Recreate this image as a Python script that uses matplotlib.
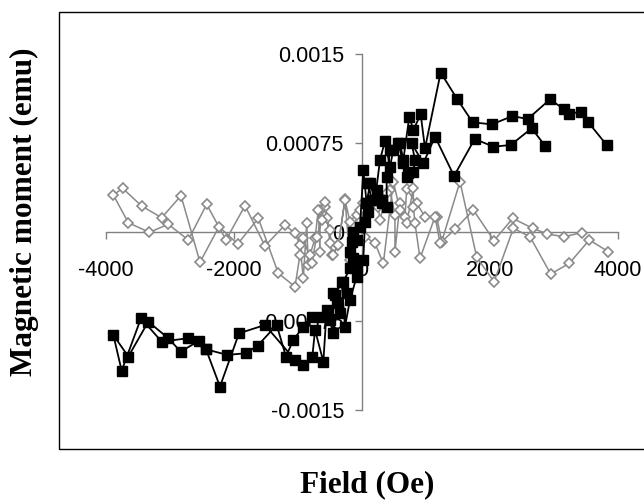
import matplotlib
matplotlib.use("Agg")
import matplotlib.pyplot as plt
from matplotlib.patches import Rectangle

# black squares: field sweep down (+H -> -H), then back up
field_black = [3823, 3536, 3417, 3240, 3156, 2938, 2589, 2349, 2031, 1729,
               1490, 1229, 984, 917, 802, 739, 645, 594, 489, 437,
               359, 281, 203, 125, 73, 20, -31, -135, -83, -188,
               -161, -135, -188, -292, -240, -396, -344, -500, -630, -786,
               -917, -1073, -1188, -1333, -1630, -1812, -2104, -2437, -2542, -2833,
               -3026, -3339, -3651, -3885,
               -3755, -3453, -3130, -2724, -2437, -2219, -1922, -1516, -1047, -927,
               -776, -734, -604, -552, -448, -448, -422, -318, -266, -188,
               -83, -83, 20, 47, 99, 73, 151, 99, 229, 307,
               307, 385, 385, 437, 567, 645, 723, 698, 802, 828,
               776, 958, 1141, 1438, 1761, 2052, 2323, 2651, 2859]
moment_black = [0.000733, 0.000924, 0.001014, 0.000994, 0.001034, 0.001118, 0.000952, 0.000977, 0.000907, 0.000924,
                0.001118, 0.001343, 0.000705, 0.000992, 0.00086, 0.000972, 0.000607, 0.000747, 0.000691, 0.00055,
                0.000767, 0.000607, 0.00027, 0.00041, 0.000242, 0.000522, 0.000045, 0.0, -0.000067, -0.000166,
                -0.000082, -0.000222, -0.000306, -0.000419, -0.000517, -0.000601, -0.000685, -0.000742, -0.000714, -0.000714,
                -0.000798, -0.00091, -0.00105, -0.000784, -0.000958, -0.001022, -0.001036, -0.000989, -0.000916, -0.001008,
                -0.000896, -0.000756, -0.00105, -0.000868,
                -0.001169, -0.000727, -0.000924, -0.000896, -0.000989, -0.001303, -0.000854, -0.000784, -0.001079, -0.001121,
                -0.00105, -0.000826, -0.001093, -0.000657, -0.000854, -0.000517, -0.000531, -0.000419, -0.000798, -0.000573,
                -0.000376, -0.000292, -0.000236, 0.000087, 0.000171, 0.000242, 0.00027, 0.00041, 0.000354, 0.000242,
                0.00027, 0.000213, 0.000466, 0.000691, 0.000747, 0.000579, 0.000494, 0.000466, 0.000508, 0.000607,
                0.000747, 0.000579, 0.000803, 0.000472, 0.000784, 0.000719, 0.000733, 0.000874, 0.000727]

# gray diamonds: same kind of sweep
field_gray = [3849, 3552, 3240, 2948, 2625, 2365, 2063, 1792, 1531, 1245,
              1167, 984, 854, 698, 672, 594, 515, 515, 437, 385,
              281, 255, 73, 20, -83, -188, -266, -370, -474, -500,
              -552, -578, -656, -656, -682, -734, -812, -839, -864, -917,
              -969, -1047, -1203, -1516, -1828, -2125, -2427, -2714, -3026, -3323,
              -3651, -3885,
              -3740, -3443, -3130, -2828, -2531, -2234, -1943, -1620, -1307, -1047,
              -969, -917, -786, -708, -630, -578, -500, -448, -370, -266,
              -188, -31, 47, 203, 333, 489, 594, 698, 802, 802,
              828, 906, 1141, 1219, 1453, 1740, 2063, 2354, 2667, 2896,
              3156, 3432]
moment_gray = [-0.000166, -0.000067, -0.000264, -0.000354, -0.00004, 0.000031, -0.000419, -0.000213, 0.000424, -0.000082,
               0.000129, 0.000129, 0.000242, 0.00036, 0.000129, 0.000242, -0.000166, 0.000143, 0.000354, 0.000326,
               0.000101, 0.000213, 0.000213, 0.000242, 0.000143, -0.000236, 0.000275, -0.00011, -0.000194, 0.000017,
               0.000115, 0.000213, 0.000185, -0.000166, 0.000185, -0.000053, -0.000194, -0.000278, 0.000073, -0.00039,
               -0.00011, -0.000011, 0.000059, -0.000118, 0.000222, -0.000067, 0.000233, -0.000067, 0.000065, -0.000003,
               0.000078, 0.000312,
               0.000368, 0.000219, 0.00012, 0.000306, -0.000255, 0.000045, -0.000101, 0.000115, -0.000348, -0.000461,
               -0.000194, -0.000053, -0.000264, -0.00004, 0.000101, 0.000255, -0.000095, -0.000194, -0.00011, 0.00027,
               0.000087, 0.000185, -0.00004, -0.000095, -0.000264, 0.000424, 0.000185, 0.000073, 0.000368, 0.000213,
               0.000073, -0.000222, 0.000129, -0.000095, 0.000023, 0.000185, -0.000073, 0.000115, 0.000031, -0.000017,
               -0.00004, -0.000006]

x_ticks = [-4000, -2000, 0, 2000, 4000]
y_ticks = [-0.0015, -0.00075, 0, 0.00075, 0.0015]
y_tick_labels = ["-0.0015", "-0.00075", "0", "0.00075", "0.0015"]

fig = plt.figure(figsize=(6.44, 5.01), dpi=100)
ax = fig.add_axes([59 / 644, 52 / 501, 587 / 644, 437 / 501])

ax.plot(field_gray, moment_gray, color="#8a8a8a", lw=1.1, marker="D", ms=5.5,
        mfc="white", mec="#8a8a8a", mew=1.2, zorder=3)
ax.plot(field_black, moment_black, color="black", lw=1.3, marker="s", ms=7.3,
        mfc="black", mec="black", zorder=4)

ax.set_xlim(-4734, 4437)
ax.set_ylim(-0.001829, 0.001854)

# axes crossing at the origin, Excel style
for side in ["top", "right"]:
    ax.spines[side].set_visible(False)
ax.spines["left"].set_position(("data", 0))
ax.spines["bottom"].set_position(("data", 0))
ax.spines["left"].set_bounds(-0.0015, 0.0015)
ax.spines["bottom"].set_bounds(-4000, 4000)
for side in ["left", "bottom"]:
    ax.spines[side].set_color("#808080")
    ax.spines[side].set_linewidth(1.0)
    ax.spines[side].set_zorder(1)

ax.set_xticks(x_ticks)
ax.set_xticklabels([str(v) for v in x_ticks])
ax.set_yticks(y_ticks)
ax.set_yticklabels(y_tick_labels)
ax.tick_params(axis="both", direction="out", length=5, width=1.0, color="#808080",
               labelsize=15.5, labelcolor="black")
ax.tick_params(axis="x", pad=15)
ax.tick_params(axis="y", pad=8)
for lab in ax.get_xticklabels() + ax.get_yticklabels():
    lab.set_fontfamily("Liberation Sans")

# plot area frame
ax.add_patch(Rectangle((0, 0), 1, 1, transform=ax.transAxes, fill=False,
                       edgecolor="black", lw=1.0, clip_on=False, zorder=5))

fig.text(367 / 644, 1 - 485 / 501, "Field (Oe)", ha="center", va="center",
         fontsize=22.5, fontweight="bold", family="Liberation Serif")
fig.text(24 / 644, 1 - 212 / 501, "Magnetic moment (emu)", ha="center", va="center",
         rotation=90, fontsize=22.5, fontweight="bold", family="Liberation Serif")

fig.savefig("out.png", dpi=100)
